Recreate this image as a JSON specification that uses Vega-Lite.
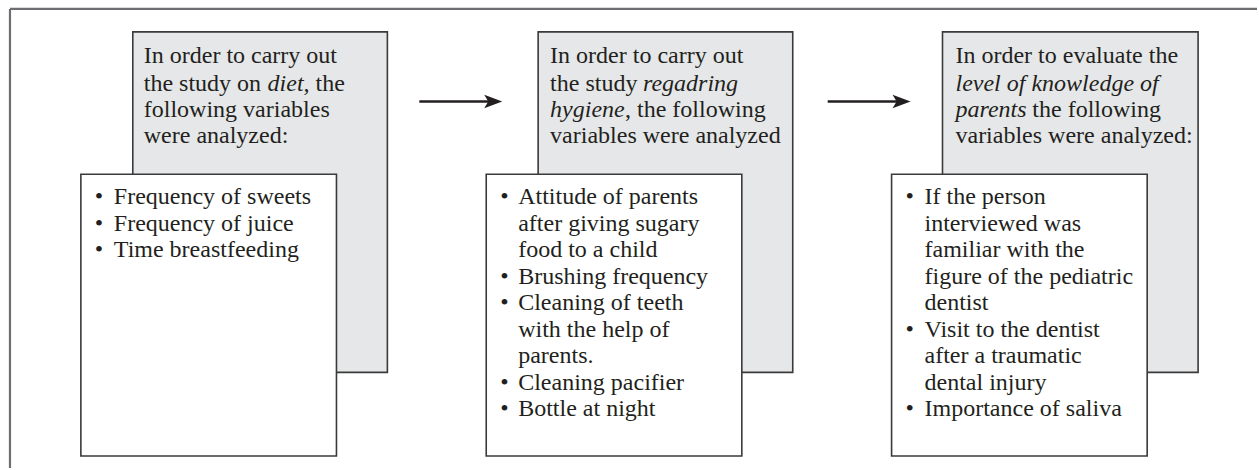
{
  "$schema": "https://vega.github.io/schema/vega-lite/v6.json",
  "width": 1259,
  "height": 470,
  "padding": 0,
  "autosize": {"type": "fit", "contains": "padding"},
  "background": "white",
  "config": {"view": {"stroke": null}},
  "datasets": {
    "frame": [
      {"x1": 10, "x2": 1259, "y1": 9, "y2": 9},
      {"x1": 10, "x2": 10, "y1": 9, "y2": 470}
    ],
    "boxes": [
      {"x1": 133, "x2": 388, "y1": 32, "y2": 374, "fill": "#e6e7e8", "ord": 1},
      {"x1": 539, "x2": 794, "y1": 32, "y2": 374, "fill": "#e6e7e8", "ord": 1},
      {"x1": 944, "x2": 1200, "y1": 32, "y2": 374, "fill": "#e6e7e8", "ord": 1},
      {"x1": 81, "x2": 337, "y1": 175, "y2": 458, "fill": "#ffffff", "ord": 2},
      {"x1": 487, "x2": 743, "y1": 175, "y2": 458, "fill": "#ffffff", "ord": 2},
      {"x1": 893, "x2": 1149, "y1": 175, "y2": 458, "fill": "#ffffff", "ord": 2}
    ],
    "arrows": [
      {"x1": 420, "x2": 492, "y": 102},
      {"x1": 829, "x2": 901, "y": 102}
    ],
    "heads": [
      {"x": 494, "y": 102},
      {"x": 903, "y": 102}
    ],
    "texts": [
      {"x": 144, "y": 63, "t": "In order to carry out", "it": false},
      {"x": 144, "y": 91, "t": "the study on", "it": false},
      {"x": 268, "y": 91, "t": "diet,", "it": true},
      {"x": 316, "y": 91, "t": "the", "it": false},
      {"x": 144, "y": 118, "t": "following variables", "it": false},
      {"x": 144, "y": 144, "t": "were analyzed:", "it": false},

      {"x": 551, "y": 63, "t": "In order to carry out", "it": false},
      {"x": 551, "y": 91, "t": "the study", "it": false},
      {"x": 644, "y": 91, "t": "regadring", "it": true},
      {"x": 551, "y": 118, "t": "hygiene", "it": true},
      {"x": 626, "y": 118, "t": ", the following", "it": false},
      {"x": 551, "y": 144, "t": "variables were analyzed", "it": false},

      {"x": 957, "y": 63, "t": "In order to evaluate the", "it": false},
      {"x": 957, "y": 91, "t": "level of knowledge of", "it": true},
      {"x": 957, "y": 118, "t": "parents", "it": true},
      {"x": 1034, "y": 118, "t": "the following", "it": false},
      {"x": 957, "y": 144, "t": "variables were analyzed:", "it": false},

      {"x": 95, "y": 205, "t": "•", "it": false},
      {"x": 114, "y": 205, "t": "Frequency of sweets", "it": false},
      {"x": 95, "y": 231.5, "t": "•", "it": false},
      {"x": 114, "y": 231.5, "t": "Frequency of juice", "it": false},
      {"x": 95, "y": 258, "t": "•", "it": false},
      {"x": 114, "y": 258, "t": "Time breastfeeding", "it": false},

      {"x": 501, "y": 205, "t": "•", "it": false},
      {"x": 519, "y": 205, "t": "Attitude of parents", "it": false},
      {"x": 519, "y": 231.6, "t": "after giving sugary", "it": false},
      {"x": 519, "y": 258.2, "t": "food to a child", "it": false},
      {"x": 501, "y": 284.8, "t": "•", "it": false},
      {"x": 519, "y": 284.8, "t": "Brushing frequency", "it": false},
      {"x": 501, "y": 311.4, "t": "•", "it": false},
      {"x": 519, "y": 311.4, "t": "Cleaning of teeth", "it": false},
      {"x": 519, "y": 338, "t": "with the help of", "it": false},
      {"x": 519, "y": 364.6, "t": "parents.", "it": false},
      {"x": 501, "y": 391.2, "t": "•", "it": false},
      {"x": 519, "y": 391.2, "t": "Cleaning pacifier", "it": false},
      {"x": 501, "y": 417.8, "t": "•", "it": false},
      {"x": 519, "y": 417.8, "t": "Bottle at night", "it": false},

      {"x": 907, "y": 205, "t": "•", "it": false},
      {"x": 926, "y": 205, "t": "If the person", "it": false},
      {"x": 926, "y": 231.6, "t": "interviewed was", "it": false},
      {"x": 926, "y": 258.2, "t": "familiar with the", "it": false},
      {"x": 926, "y": 284.8, "t": "figure of the pediatric", "it": false},
      {"x": 926, "y": 311.4, "t": "dentist", "it": false},
      {"x": 907, "y": 338, "t": "•", "it": false},
      {"x": 926, "y": 338, "t": "Visit to the dentist", "it": false},
      {"x": 926, "y": 364.6, "t": "after a traumatic", "it": false},
      {"x": 926, "y": 391.2, "t": "dental injury", "it": false},
      {"x": 907, "y": 417.8, "t": "•", "it": false},
      {"x": 926, "y": 417.8, "t": "Importance of saliva", "it": false}
    ]
  },
  "layer": [
    {
      "data": {"name": "frame"},
      "mark": {"type": "rule", "color": "#6d6e71", "strokeWidth": 2.2},
      "encoding": {
        "x": {"field": "x1", "type": "quantitative", "scale": {"domain": [0, 1259], "nice": false, "zero": false}, "axis": null},
        "x2": {"field": "x2"},
        "y": {"field": "y1", "type": "quantitative", "scale": {"domain": [0, 470], "nice": false, "zero": false, "reverse": true}, "axis": null},
        "y2": {"field": "y2"}
      }
    },
    {
      "data": {"name": "boxes"},
      "mark": {"type": "rect", "stroke": "#3a3a3a", "strokeWidth": 1.6},
      "encoding": {
        "x": {"field": "x1", "type": "quantitative"},
        "x2": {"field": "x2"},
        "y": {"field": "y1", "type": "quantitative"},
        "y2": {"field": "y2"},
        "fill": {"field": "fill", "type": "nominal", "scale": null},
        "order": {"field": "ord", "type": "quantitative"}
      }
    },
    {
      "data": {"name": "arrows"},
      "mark": {"type": "rule", "color": "#231f20", "strokeWidth": 2.6},
      "encoding": {
        "x": {"field": "x1", "type": "quantitative"},
        "x2": {"field": "x2"},
        "y": {"field": "y", "type": "quantitative"}
      }
    },
    {
      "data": {"name": "heads"},
      "mark": {"type": "point", "filled": true, "opacity": 1, "color": "#231f20", "size": 324, "shape": "M -1 -0.75 L 1 0 L -1 0.75 L -0.55 0 Z", "strokeWidth": 0},
      "encoding": {
        "x": {"field": "x", "type": "quantitative"},
        "y": {"field": "y", "type": "quantitative"}
      }
    },
    {
      "data": {"name": "texts"},
      "transform": [{"filter": "!datum.it"}],
      "mark": {"type": "text", "font": "Liberation Serif", "fontSize": 24, "align": "left", "baseline": "alphabetic", "color": "#231f20"},
      "encoding": {
        "x": {"field": "x", "type": "quantitative"},
        "y": {"field": "y", "type": "quantitative"},
        "text": {"field": "t"}
      }
    },
    {
      "data": {"name": "texts"},
      "transform": [{"filter": "datum.it"}],
      "mark": {"type": "text", "font": "Liberation Serif", "fontSize": 24, "fontStyle": "italic", "align": "left", "baseline": "alphabetic", "color": "#231f20"},
      "encoding": {
        "x": {"field": "x", "type": "quantitative"},
        "y": {"field": "y", "type": "quantitative"},
        "text": {"field": "t"}
      }
    }
  ]
}
